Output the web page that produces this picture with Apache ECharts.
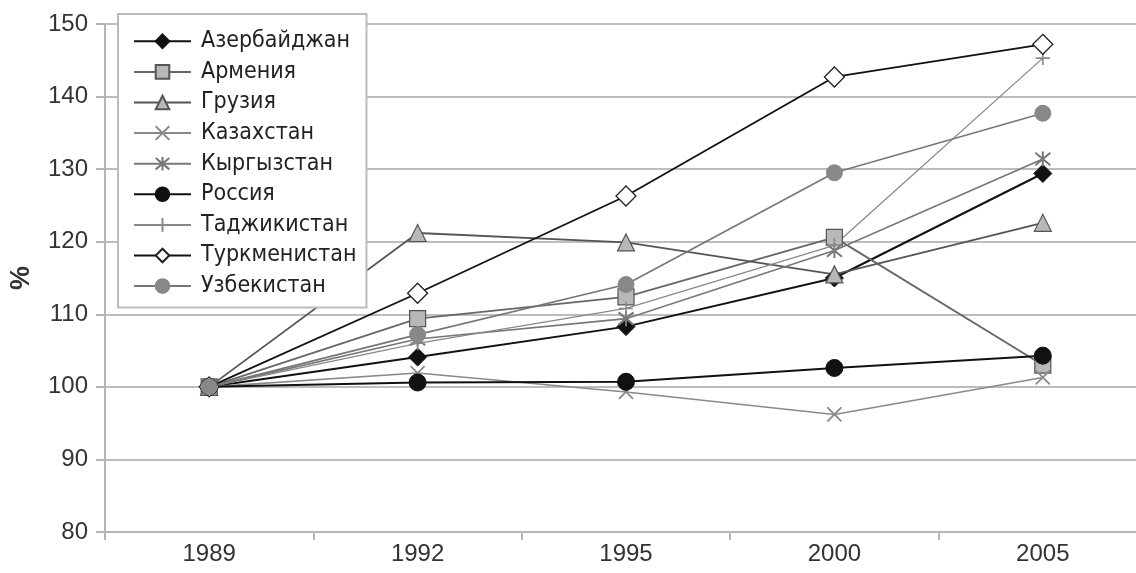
<!DOCTYPE html>
<html><head><meta charset="utf-8">
<script src="https://cdn.jsdelivr.net/npm/echarts@6/dist/echarts.min.js"></script>
<style>html,body{margin:0;padding:0;background:#fff}#c{width:1136px;height:573px}</style>
</head><body><div id="c"></div>
<script>
const years = ['1989','1992','1995','2000','2005'];
const azerbaijan   = [100, 104.1, 108.3, 115.0, 129.4];
const armenia      = [100, 109.4, 112.4, 120.6, 103.0];
const georgia      = [100, 121.2, 119.9, 115.5, 122.6];
const kazakhstan   = [100, 101.9, 99.3, 96.2, 101.3];
const kyrgyzstan   = [100, 106.6, 109.4, 118.8, 131.4];
const russia       = [100, 100.6, 100.7, 102.6, 104.3];
const tajikistan   = [100, 106.0, 110.8, 119.5, 145.3];
const turkmenistan = [100, 112.9, 126.3, 142.7, 147.2];
const uzbekistan   = [100, 107.2, 114.1, 129.5, 137.7];
const yTicks = {min: 80, max: 150, interval: 10};

const FONT = 'Liberation Sans, Arial, sans-serif';
const NARROW = 'Liberation Sans Narrow, Arial Narrow, DejaVu Sans Condensed, sans-serif';
const X_PATH = 'path://M0,0L10,10M10,0L0,10';
const AST_PATH = 'path://M0,0L10,10M10,0L0,10M5,-1L5,11';
const PLUS_PATH = 'path://M5,0L5,10M0,5L10,5';

function mk(name, data, o) {
  return {
    name, data, type: 'line',
    symbol: o.symbol, symbolSize: o.size,
    lineStyle: {color: o.line, width: o.lw},
    itemStyle: {color: o.fill, borderColor: o.border, borderWidth: o.bw},
    emphasis: {disabled: true},
    animation: false,
    z: o.z || 2
  };
}

const series = [
  mk('Азербайджан', azerbaijan, {symbol:'diamond', size:18, line:'#111', lw:2, fill:'#111', border:'#111', bw:1}),
  mk('Армения', armenia, {symbol:'rect', size:16, line:'#666', lw:1.8, fill:'#b8b8b8', border:'#555', bw:1.2}),
  mk('Грузия', georgia, {symbol:'triangle', size:17, line:'#555', lw:1.8, fill:'#b8b8b8', border:'#555', bw:1.2}),
  mk('Казахстан', kazakhstan, {symbol:X_PATH, size:14, line:'#8a8a8a', lw:1.6, fill:'rgba(0,0,0,0)', border:'#8a8a8a', bw:1.8}),
  mk('Кыргызстан', kyrgyzstan, {symbol:AST_PATH, size:15, line:'#777', lw:1.6, fill:'rgba(0,0,0,0)', border:'#777', bw:2}),
  mk('Россия', russia, {symbol:'circle', size:17, line:'#111', lw:2, fill:'#111', border:'#111', bw:1}),
  mk('Таджикистан', tajikistan, {symbol:PLUS_PATH, size:14, line:'#888', lw:1.3, fill:'rgba(0,0,0,0)', border:'#888', bw:1.6}),
  mk('Туркменистан', turkmenistan, {symbol:'diamond', size:20, line:'#111', lw:1.8, fill:'#fff', border:'#222', bw:1.3}),
  mk('Узбекистан', uzbekistan, {symbol:'circle', size:16, line:'#777', lw:1.6, fill:'#888', border:'#888', bw:1})
];

const chart = echarts.init(document.getElementById('c'), null, {renderer:'canvas'});
chart.setOption({
  animation: false,
  backgroundColor: '#fff',
  grid: {left: 105, top: 24, width: 1042, height: 508, containLabel: false, outerBoundsMode: 'none'},
  legend: {
    orient: 'vertical', left: 118, top: 14,
    padding: [12, 10, 6, 15],
    itemWidth: 57, itemHeight: 17, itemGap: 0,
    backgroundColor: '#fff',
    borderColor: '#bbb', borderWidth: 2,
    textStyle: {fontFamily: NARROW, fontSize: 23, color: '#222', lineHeight: 30.6, padding: [0,0,0,5]},
    selectedMode: false
  },
  xAxis: {
    type: 'category', data: years, boundaryGap: true,
    axisLine: {lineStyle: {color: '#b5b5b5', width: 2}},
    axisTick: {show: true, length: 8, lineStyle: {color: '#b5b5b5', width: 2}},
    axisLabel: {fontFamily: FONT, fontSize: 24, color: '#333', margin: 10}
  },
  yAxis: {
    type: 'value', min: yTicks.min, max: yTicks.max, interval: yTicks.interval,
    name: '%', nameLocation: 'middle', nameRotate: 90, nameGap: 70,
    nameTextStyle: {fontFamily: FONT, fontSize: 27, color: '#333', fontWeight: 'bold'},
    axisLine: {show: true, lineStyle: {color: '#b5b5b5', width: 2}},
    axisTick: {show: true, length: 9, lineStyle: {color: '#b5b5b5', width: 2}},
    axisLabel: {fontFamily: FONT, fontSize: 24, color: '#333', margin: 17},
    splitLine: {lineStyle: {color: '#bdbdbd', width: 2}}
  },
  series
});
</script>
</body></html>
